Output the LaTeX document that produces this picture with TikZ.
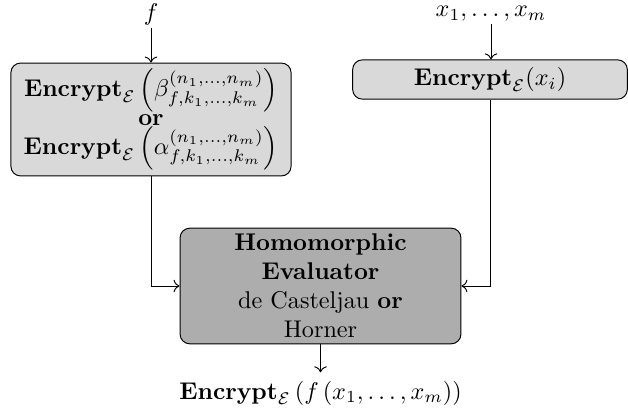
\documentclass[tikz,border=0pt]{standalone}
\usepackage{amsmath}
\usepackage{amssymb}
\usetikzlibrary{arrows, arrows.meta, positioning}

\begin{document}
\begin{tikzpicture}[x=0.01452cm, y=-0.01452cm, line width=0.4pt,
    encbox/.style={draw, rounded corners=4pt, fill=black!15, align=center, inner sep=1pt},
    evalbox/.style={draw, rounded corners=4pt, fill=black!32, align=center, inner sep=1pt}]
        \useasboundingbox (0,0) rectangle (628,419);

        % Inputs
        \node[inner sep=1pt] (f) at (151, 14) {$f$};
        \node[inner sep=1pt] (xs) at (491, 14) {$x_1, \ldots, x_m$};

        % Encryption of the coefficients and of the variables
        \node[encbox, minimum width=4.07cm, minimum height=1.64cm] (encf) at (151, 119.5)
            {$\mathbf{Encrypt}_{\mathcal{E}}\left(\beta^{(n_1,\ldots,n_m)}_{f,k_1,\ldots,k_m}\right)$\\
             \textbf{or}\\
             $\mathbf{Encrypt}_{\mathcal{E}}\left(\alpha^{(n_1,\ldots,n_m)}_{f,k_1,\ldots,k_m}\right)$};
        \node[encbox, minimum width=3.99cm, minimum height=0.57cm] (encx) at (490, 79.5)
            {$\mathbf{Encrypt}_{\mathcal{E}}(x_i)$};

        % Evaluator
        \node[evalbox, minimum width=4.08cm, minimum height=1.68cm] (eval) at (320.5, 286)
            {\textbf{Homomorphic}\\ \textbf{Evaluator}\\ de Casteljau \textbf{or}\\ Horner};

        % Output
        \node (out) at (320.5, 393) {$\mathbf{Encrypt}_{\mathcal{E}}\left(f\left(x_1, \ldots, x_m\right)\right)$};

        % Connectors
        \draw[->] (f) -- (encf);
        \draw[->] (xs) -- (xs |- encx.north);
        \draw[->] (encf) |- (eval.west);
        \draw[->] (encx) |- (eval.east);
        \draw[->] (eval) -- (out);
    \end{tikzpicture}
\end{document}
